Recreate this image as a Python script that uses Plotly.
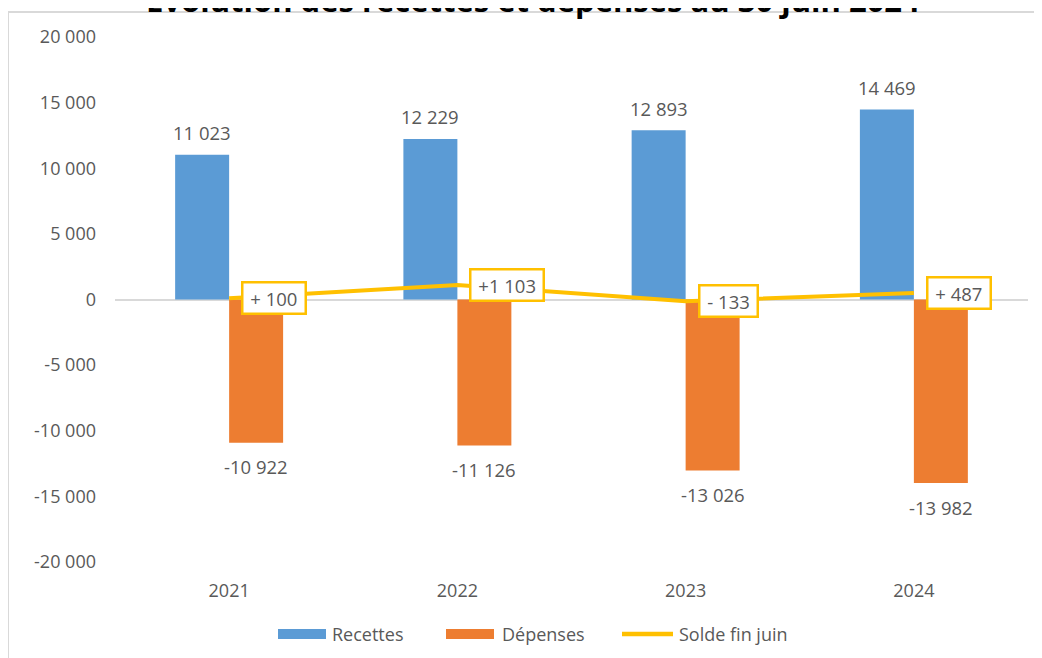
import plotly.graph_objects as go

years = ["2021", "2022", "2023", "2024"]
recettes = [11023, 12229, 12893, 14469]
depenses = [-10922, -11126, -13026, -13982]
solde = [100, 1103, -133, 487]
ytick_vals = [20000, 15000, 10000, 5000, 0, -5000, -10000, -15000, -20000]
series_names = ["Recettes", "Dépenses", "Solde fin juin"]

BLUE = "#5B9BD5"
ORANGE = "#ED7D31"
YELLOW = "#FFC000"
GREY = "#595959"
FONT = "Open Sans"

# the page body adds an 8 px offset; figure coords = page coords - OFF
OFF = 8
W, H = 1042 - OFF, 658 - OFF
# target page positions: plot area x 115..1028, y 37..562
L, R, T, B = 115 - OFF, 1042 - 1028, 37 - OFF, 658 - 562


def fmt(v):
    return f"{v:,}".replace(",", " ")


def fmt_solde(v):
    sign = "+" if v >= 0 else "-"
    pad = "" if abs(v) >= 1000 else " "
    return f"{sign}{pad}{fmt(abs(v))}"


def px_x(p):  # page pixel -> paper
    return (p - OFF - L) / (W - L - R)


def px_y(p):
    return (H - B - (p - OFF)) / (H - T - B)


fig = go.Figure()
fig.add_trace(go.Bar(name=series_names[0], x=years, y=recettes, marker_color=BLUE,
                     marker_line_width=0))
fig.add_trace(go.Bar(name=series_names[1], x=years, y=depenses, marker_color=ORANGE,
                     marker_line_width=0))
fig.add_trace(go.Scatter(name=series_names[2], x=years, y=solde, mode="lines",
                         line=dict(color=YELLOW, width=4)))

LBL = dict(family=FONT, size=18.5, color=GREY)
annotations = []
for i, v in enumerate(recettes):
    annotations.append(dict(x=i, y=v, text=fmt(v), showarrow=False, xshift=-27,
                            yshift=22, yanchor="middle", font=LBL))
for i, v in enumerate(depenses):
    annotations.append(dict(x=i, y=v, text=fmt(v), showarrow=False, xshift=27,
                            yshift=-24, yanchor="middle", font=LBL))
for i, v in enumerate(solde):
    annotations.append(dict(x=i, y=v, text="&nbsp;" + fmt_solde(v) + "&nbsp;",
                            showarrow=False, xanchor="left", yanchor="middle",
                            xshift=12, bgcolor="white", bordercolor=YELLOW,
                            borderwidth=2.5, borderpad=2, font=LBL))

annotations.append(dict(xref="paper", yref="paper", x=px_x(533), y=px_y(0),
                        text="<b>Évolution des recettes et dépenses au 30 juin 2024</b>",
                        showarrow=False, xanchor="center", yanchor="middle",
                        font=dict(family=FONT, size=31, color="black")))

# custom legend (wide swatches like the original)
LEG_Y = 634
leg_font = dict(family=FONT, size=18, color=GREY)
shapes = [
    dict(type="line", xref="paper", yref="paper", x0=px_x(8), x1=px_x(8),
         y0=px_y(12), y1=px_y(670), line=dict(color="#D9D9D9", width=2)),
    dict(type="line", xref="paper", yref="paper", x0=px_x(8), x1=px_x(1060),
         y0=px_y(12), y1=px_y(12), line=dict(color="#D9D9D9", width=2)),
    dict(type="rect", xref="paper", yref="paper", x0=px_x(278), x1=px_x(326),
         y0=px_y(LEG_Y - 5), y1=px_y(LEG_Y + 5), fillcolor=BLUE, line_width=0),
    dict(type="rect", xref="paper", yref="paper", x0=px_x(446), x1=px_x(494),
         y0=px_y(LEG_Y - 5), y1=px_y(LEG_Y + 5), fillcolor=ORANGE, line_width=0),
    dict(type="line", xref="paper", yref="paper", x0=px_x(622), x1=px_x(673),
         y0=px_y(LEG_Y), y1=px_y(LEG_Y), line=dict(color=YELLOW, width=4.5)),
]
for name, xpx in zip(series_names, [330, 500, 677]):
    annotations.append(dict(xref="paper", yref="paper", x=px_x(xpx),
                            y=px_y(LEG_Y), text=name, showarrow=False,
                            xanchor="left", yanchor="middle", font=leg_font))

fig.update_layout(
    width=W, height=H,
    margin=dict(l=L, r=R, t=T, b=B, autoexpand=False),
    paper_bgcolor="white", plot_bgcolor="white",
    barmode="group", bargap=0.527, bargroupgap=0,
    font=dict(family=FONT, size=18, color=GREY),
    showlegend=False,
    annotations=annotations,
    shapes=shapes,
)
fig.update_xaxes(type="category", range=[-0.5, 3.5], showgrid=False,
                 showline=False, ticks="", ticklabelstandoff=16,
                 tickfont=dict(family=FONT, size=18, color=GREY))
fig.update_yaxes(range=[-20000, 20000], showgrid=False, showline=False,
                 zeroline=True, zerolinecolor="#D9D9D9", zerolinewidth=2,
                 tickmode="array", tickvals=ytick_vals,
                 ticktext=[fmt(v) for v in ytick_vals], ticks="",
                 ticklabelstandoff=18,
                 tickfont=dict(family=FONT, size=18, color=GREY))

fig.write_html("out.html")
